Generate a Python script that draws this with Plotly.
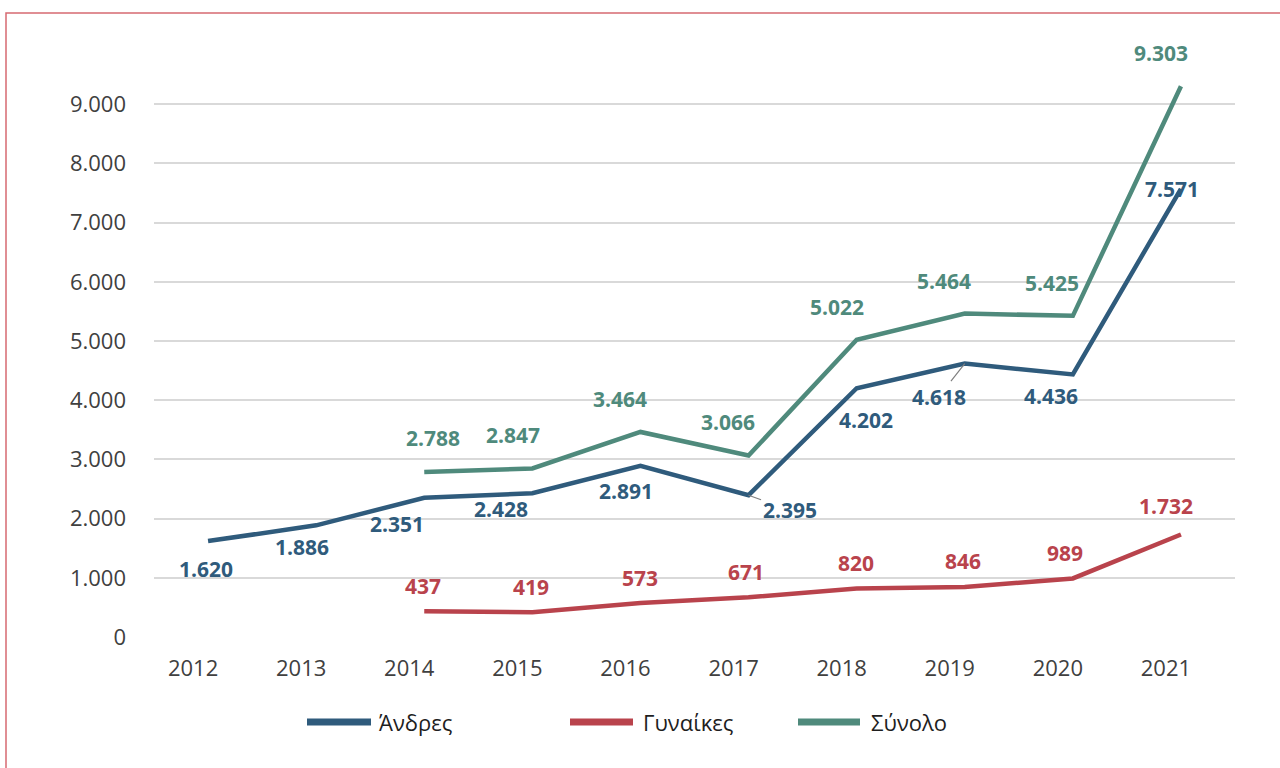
import plotly.graph_objects as go

years = ["2012", "2013", "2014", "2015", "2016", "2017", "2018", "2019", "2020", "2021"]
andres = [1620, 1886, 2351, 2428, 2891, 2395, 4202, 4618, 4436, 7571]
gynaikes = [None, None, 437, 419, 573, 671, 820, 846, 989, 1732]
synolo = [None, None, 2788, 2847, 3464, 3066, 5022, 5464, 5425, 9303]
names = ["Άνδρες", "Γυναίκες", "Σύνολο"]
y_ticks = [0, 1000, 2000, 3000, 4000, 5000, 6000, 7000, 8000, 9000, 10000]

C_A = "#2f5b7c"
C_G = "#b9434c"
C_S = "#4f8a7c"

# label offsets (px): (dx, dy) with dy positive = up
off_A = [(-2, -28), (-14, -22), (-27, -26), (-31, -16), (-14, -25), (41, -15), (9, -32), (-26, -33), (-22, -22), (-9, 0)]
off_G = [None, None, (-1, 25), (-1, 25), (0, 25), (-3, 25), (-1, 25), (-2, 26), (-8, 25), (-15, 28)]
off_S = [None, None, (9, 34), (-19, 33), (-20, 33), (-21, 33), (-20, 33), (-21, 33), (-21, 33), (-20, 33)]
leader_A = [False, False, False, False, False, True, False, True, False, False]

L, R, T, B = 154, 45, 45, 131
W, H = 1280, 768
PW, PH = W - L - R, H - T - B


def px_x(p):
    return (p - L) / PW


def px_y(p):
    return (H - B - p) / PH


def fmt(v):
    return f"{v:,}".replace(",", ".")


fig = go.Figure()
for vals, name, col in [(andres, names[0], C_A), (gynaikes, names[1], C_G), (synolo, names[2], C_S)]:
    fig.add_trace(go.Scatter(x=years, y=vals, name=name, mode="lines",
                             line=dict(color=col, width=4.5), connectgaps=False,
                             showlegend=False, hoverinfo="x+y"))

annotations = []
label_font = "Open Sans"
for vals, offs, col, leaders in [(andres, off_A, C_A, leader_A),
                                 (gynaikes, off_G, C_G, [False] * 10),
                                 (synolo, off_S, C_S, [False] * 10)]:
    for i, (v, o, ld) in enumerate(zip(vals, offs, leaders)):
        if v is None:
            continue
        dx, dy = o
        f = dict(family=label_font, size=21, color=col, weight="bold")
        if ld:
            annotations.append(dict(x=i, y=v, xref="x", yref="y", text=fmt(v),
                                    showarrow=True, arrowhead=0, arrowwidth=1.2,
                                    arrowcolor="#7f7f7f", ax=dx, ay=-dy, font=f))
        else:
            annotations.append(dict(x=i, y=v, xref="x", yref="y", text=fmt(v),
                                    showarrow=False, xshift=dx, yshift=dy, font=f))

# custom legend
shapes = []
leg = [(307, 371, 377, names[0], C_A), (570, 633, 641, names[1], C_G), (798, 860, 869, names[2], C_S)]
for x0, x1, tx, nm, col in leg:
    shapes.append(dict(type="line", xref="paper", yref="paper", x0=px_x(x0), x1=px_x(x1),
                       y0=px_y(722), y1=px_y(722), line=dict(color=col, width=7)))
    annotations.append(dict(xref="paper", yref="paper", x=px_x(tx), y=px_y(722), xanchor="left",
                            yanchor="middle", text=nm, showarrow=False,
                            font=dict(family="Open Sans", size=22, color="#1e1e1e")))

# frame
shapes.append(dict(type="rect", xref="paper", yref="paper", x0=px_x(6), x1=px_x(1300),
                   y0=px_y(790), y1=px_y(13), line=dict(color="#d66a72", width=1.5),
                   fillcolor="rgba(0,0,0,0)", layer="above"))

fig.update_layout(
    width=W, height=H,
    margin=dict(l=L, r=R, t=T, b=B),
    paper_bgcolor="white", plot_bgcolor="white",
    separators=",.",
    showlegend=False,
    annotations=annotations,
    shapes=shapes,
    xaxis=dict(type="category", range=[-0.5, 9.5], showgrid=False, showline=False, zeroline=False,
               ticks="", tickfont=dict(family="Open Sans", size=22, color="#404040"),
               ticklabelshift=-15, ticklabelstandoff=16),
    yaxis=dict(range=[0, 10000], tickvals=y_ticks,
               ticktext=[fmt(v) for v in y_ticks[:-1]] + [""],
               showgrid=True, gridcolor="#d9d9d9", gridwidth=2, zeroline=False, showline=False,
               ticks="", tickfont=dict(family="Open Sans", size=22, color="#404040"),
               ticklabelstandoff=27),
)

fig.write_html("out.html", config={"displayModeBar": False},
               post_script="document.body.style.margin='0';")
